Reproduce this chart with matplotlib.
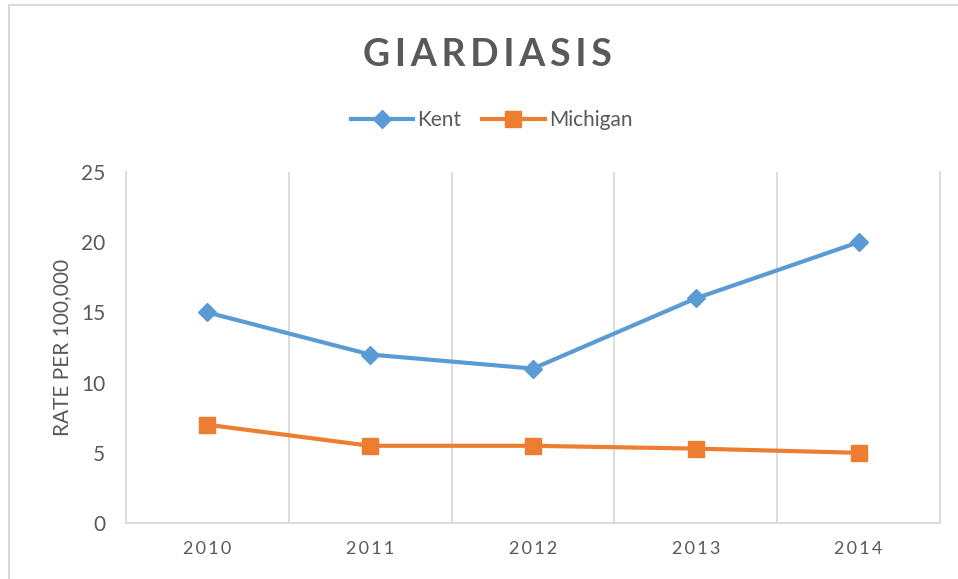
import matplotlib
matplotlib.use("Agg")
import matplotlib.pyplot as plt
from matplotlib.lines import Line2D

YEARS = ["2010", "2011", "2012", "2013", "2014"]
KENT = [15, 12, 11, 16, 20]
MICHIGAN = [7, 5.5, 5.5, 5.3, 5]
Y_TICKS = [0, 5, 10, 15, 20, 25]

BLUE = "#5B9BD5"
ORANGE = "#ED7D31"
GRID = "#D9D9D9"
TEXT = "#595959"
THIN = "\u2009"

plt.rcParams['font.family'] = ['Lato', 'DejaVu Sans']

fig = plt.figure(figsize=(9.58, 5.79), dpi=100)
ax = fig.add_axes([0.1315, 0.0967, 0.8497, 0.6062])

x = list(range(len(YEARS)))
ax.plot(x, KENT, color=BLUE, linewidth=3, marker='D', markersize=9, label='Kent')
ax.plot(x, MICHIGAN, color=ORANGE, linewidth=3, marker='s', markersize=11, label='Michigan')

ax.set_xlim(-0.5, len(YEARS) - 0.5)
ax.set_ylim(0, 25)
ax.set_yticks(Y_TICKS)
ax.set_xticks(x)
ax.set_xticklabels([THIN.join(y) for y in YEARS], fontsize=13)
ax.tick_params(axis='y', labelsize=15, colors=TEXT, length=0, pad=15)
ax.tick_params(axis='x', colors=TEXT, length=0, pad=13)

# vertical gridlines on category boundaries
for b in [i + 0.5 for i in x[:-1]]:
    ax.axvline(b, color=GRID, linewidth=1.3, zorder=0)

ax.spines['top'].set_visible(False)
for side in ['left', 'right', 'bottom']:
    ax.spines[side].set_color(GRID)
    ax.spines[side].set_linewidth(1.3)

ax.set_ylabel("RATE PER 100,000", fontsize=15, color=TEXT, labelpad=6)

fig.text(0.509, 0.905, THIN.join("GIARDIASIS"), ha='center', va='center',
         fontsize=27, fontweight='bold', color=TEXT)

leg = fig.legend(loc='center', bbox_to_anchor=(0.513, 0.793), ncol=2, frameon=False,
                 fontsize=15, handlelength=3, columnspacing=1.0, handletextpad=0.2)
for t in leg.get_texts():
    t.set_color(TEXT)

# chart area border (left and top edges visible)
fig.add_artist(Line2D([0.009, 0.009], [0, 0.992], color=GRID, linewidth=1.5))
fig.add_artist(Line2D([0.009, 1.0], [0.992, 0.992], color=GRID, linewidth=1.5))

fig.savefig("out.png", dpi=100)
